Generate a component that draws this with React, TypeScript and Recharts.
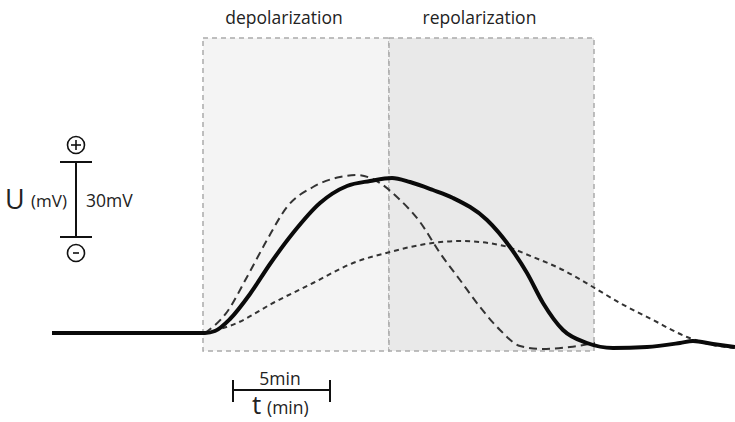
import { Line, LineChart, ReferenceArea, XAxis, YAxis } from 'recharts'

// curve samples, t along the time axis, u = drawn height (screen units, grows downward)
const solidCurve = [
  { t: 52, u: 333 }, { t: 205, u: 333 }, { t: 215, u: 331 }, { t: 230, u: 319 },
  { t: 250, u: 294 }, { t: 270, u: 264 }, { t: 293, u: 233 }, { t: 320, u: 203 },
  { t: 347, u: 186 }, { t: 370, u: 181 }, { t: 392, u: 178 }, { t: 410, u: 182 },
  { t: 433, u: 190 }, { t: 453, u: 198 }, { t: 487, u: 220 }, { t: 510, u: 247 },
  { t: 527, u: 273 }, { t: 543, u: 303 }, { t: 563, u: 330 }, { t: 587, u: 343 },
  { t: 613, u: 348 }, { t: 647, u: 347 }, { t: 680, u: 343 }, { t: 693, u: 341 },
  { t: 713, u: 344 }, { t: 735, u: 347 },
]

const dashedCurve = [
  { t: 205, u: 333 }, { t: 227, u: 312 }, { t: 247, u: 277 }, { t: 267, u: 240 },
  { t: 287, u: 207 }, { t: 313, u: 187 }, { t: 340, u: 177 }, { t: 357, u: 175 },
  { t: 380, u: 183 }, { t: 397, u: 197 }, { t: 420, u: 222 }, { t: 440, u: 253 },
  { t: 460, u: 280 }, { t: 480, u: 307 }, { t: 500, u: 330 }, { t: 520, u: 346 },
  { t: 543, u: 349 }, { t: 570, u: 347 }, { t: 595, u: 343 },
]

const dottedCurve = [
  { t: 205, u: 333 }, { t: 237, u: 323 }, { t: 273, u: 303 }, { t: 313, u: 283 },
  { t: 353, u: 263 }, { t: 390, u: 252 }, { t: 420, u: 245 }, { t: 460, u: 241 },
  { t: 500, u: 245 }, { t: 533, u: 257 }, { t: 563, u: 270 }, { t: 593, u: 287 },
  { t: 620, u: 303 }, { t: 653, u: 320 }, { t: 687, u: 337 }, { t: 713, u: 345 },
  { t: 735, u: 348 },
]

const phases = [
  { name: 'depolarization', from: 203, to: 389, fill: '#f4f4f4' },
  { name: 'repolarization', from: 389, to: 594, fill: '#e9e9e9' },
]

const W = 735
const H = 422
const font = '"Open Sans", sans-serif'

function Annotations() {
  return (
    <svg width={W} height={H} style={{ position: 'absolute', left: 0, top: 0, pointerEvents: 'none' }}>
      <g fontFamily={font} fill="#222">
        {phases.map((p) => (
          <text key={p.name} x={(p.from + p.to) / 2 - 12} y={24} textAnchor="middle" fontSize={17.5}>
            {p.name}
          </text>
        ))}

        {/* voltage scale bar */}
        <circle cx={76} cy={145} r={8.5} fill="none" stroke="#111" strokeWidth={1.6} />
        <line x1={71} y1={145} x2={81} y2={145} stroke="#111" strokeWidth={1.6} />
        <line x1={76} y1={140} x2={76} y2={150} stroke="#111" strokeWidth={1.6} />
        <line x1={60} y1={162} x2={92} y2={162} stroke="#111" strokeWidth={2} />
        <line x1={76} y1={162} x2={76} y2={237} stroke="#111" strokeWidth={2} />
        <line x1={60} y1={237} x2={92} y2={237} stroke="#111" strokeWidth={2} />
        <circle cx={76} cy={253} r={8.5} fill="none" stroke="#111" strokeWidth={1.6} />
        <line x1={73} y1={253} x2={79} y2={253} stroke="#111" strokeWidth={1.6} />
        <text x={5} y={209} fontSize={27}>U</text>
        <text x={31} y={207} fontSize={17}>(mV)</text>
        <text x={86} y={207} fontSize={17.5}>30mV</text>

        {/* time scale bar */}
        <line x1={233} y1={390} x2={330} y2={390} stroke="#111" strokeWidth={2} />
        <line x1={233} y1={380} x2={233} y2={402} stroke="#111" strokeWidth={2} />
        <line x1={330} y1={380} x2={330} y2={402} stroke="#111" strokeWidth={2} />
        <text x={280} y={385} fontSize={17.5} textAnchor="middle">5min</text>
        <text x={252} y={414} fontSize={26}>t</text>
        <text x={267} y={414} fontSize={17.5}>(min)</text>
      </g>
    </svg>
  )
}

export default function App() {
  return (
    <div style={{ position: 'absolute', left: 0, top: 0, width: W, height: H, background: '#fff' }}>
      <LineChart width={W} height={H} margin={{ top: 0, right: 0, bottom: 0, left: 0 }}>
        <XAxis type="number" dataKey="t" domain={[0, W]} hide />
        <YAxis type="number" dataKey="u" domain={[0, H]} reversed hide />
        {phases.map((p) => (
          <ReferenceArea
            key={p.name}
            x1={p.from}
            x2={p.to}
            y1={38}
            y2={351}
            fill={p.fill}
            fillOpacity={1}
            stroke="#aaa"
            strokeWidth={1.5}
            strokeDasharray="5 4"
          />
        ))}
        <Line data={dottedCurve} dataKey="u" type="monotone" stroke="#333" strokeWidth={2}
          strokeDasharray="5 4" dot={false} activeDot={false} isAnimationActive={false} />
        <Line data={dashedCurve} dataKey="u" type="monotone" stroke="#333" strokeWidth={2}
          strokeDasharray="8 5" dot={false} activeDot={false} isAnimationActive={false} />
        <Line data={solidCurve} dataKey="u" type="monotone" stroke="#0a0a0a" strokeWidth={4}
          dot={false} activeDot={false} isAnimationActive={false} />
      </LineChart>
      <Annotations />
    </div>
  )
}
